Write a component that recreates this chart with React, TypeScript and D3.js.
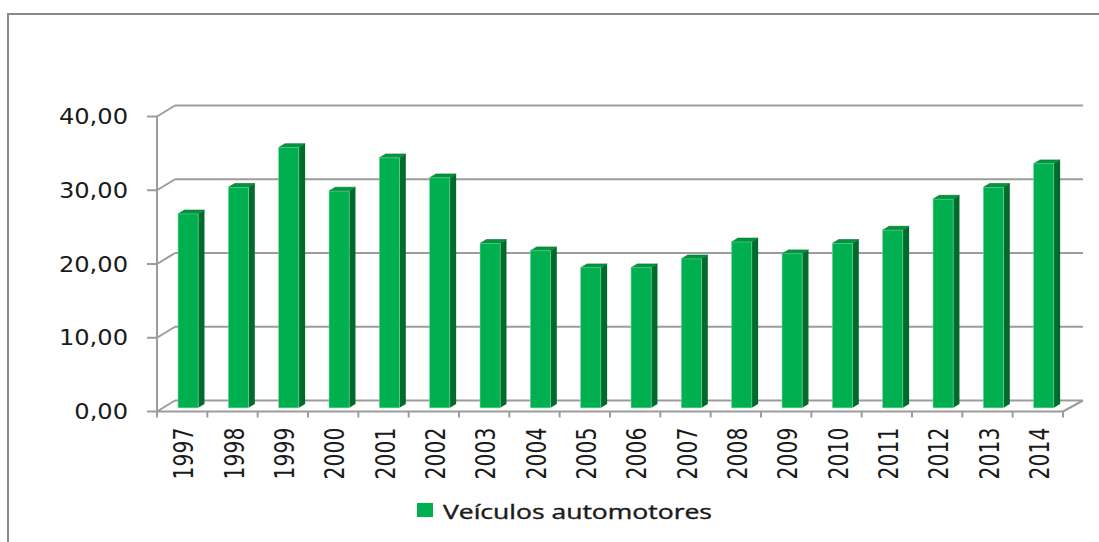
import React, { useEffect, useRef } from 'react';
import * as d3 from 'd3';

const years = ['1997', '1998', '1999', '2000', '2001', '2002', '2003', '2004', '2005', '2006', '2007', '2008', '2009', '2010', '2011', '2012', '2013', '2014'];
const values = [26.3, 29.9, 35.3, 29.4, 33.9, 31.2, 22.3, 21.3, 19.0, 19.0, 20.2, 22.5, 20.9, 22.3, 24.1, 28.3, 29.9, 33.1];
const yTicks = [0, 10, 20, 30, 40];
const yTickLabels = ['0,00', '10,00', '20,00', '30,00', '40,00'];
const seriesName = 'Veículos automotores';

export default function App() {
  const svgRef = useRef<SVGSVGElement>(null);

  useEffect(() => {
    if (!svgRef.current) return;
    const svg = d3.select(svgRef.current);
    svg.selectAll('*').remove();

    const W = 1099;
    const H = 542;
    svg.attr('width', W).attr('height', H);

    // 3d depth offset of the back wall
    const dx = 18;
    const dy = -11;
    const left = 157;
    const right = 1063;
    const gridColor = '#9c9c9c';

    const x = d3.scaleBand<string>().domain(years).range([left, right]).paddingInner(0.6).paddingOuter(0.3);
    const y = d3.scaleLinear().domain([0, 40]).range([411.5, 116.5]);
    const p = (px: number, v: number, z: number) => [px + z * dx, y(v) + z * dy];

    // outer frame
    svg
      .append('rect')
      .attr('x', 8)
      .attr('y', 14)
      .attr('width', 1200)
      .attr('height', 700)
      .attr('fill', 'white')
      .attr('stroke', '#8a8a8a')
      .attr('stroke-width', 2);

    const g = svg.append('g');

    // back wall gridlines + side wall diagonals + y ticks
    yTicks.forEach((t) => {
      const a = p(left, t, 0);
      const b = p(left, t, 1);
      const c = p(right, t, 1);
      g.append('line').attr('x1', b[0]).attr('y1', b[1]).attr('x2', c[0] + 2).attr('y2', c[1])
        .attr('stroke', gridColor).attr('stroke-width', 2);
      g.append('line').attr('x1', a[0]).attr('y1', a[1]).attr('x2', b[0]).attr('y2', b[1])
        .attr('stroke', gridColor).attr('stroke-width', 2);
      g.append('line').attr('x1', left - 10).attr('y1', a[1]).attr('x2', left).attr('y2', a[1])
        .attr('stroke', gridColor).attr('stroke-width', 2);
    });

    // front y axis
    g.append('line').attr('x1', left).attr('x2', left).attr('y1', y(0)).attr('y2', y(40))
      .attr('stroke', gridColor).attr('stroke-width', 2);

    // floor front edge and right diagonal
    const fr = p(right, 0, 1);
    g.append('line').attr('x1', left).attr('x2', right).attr('y1', y(0)).attr('y2', y(0))
      .attr('stroke', gridColor).attr('stroke-width', 2);
    g.append('line').attr('x1', right).attr('y1', y(0)).attr('x2', fr[0] + 2).attr('y2', fr[1])
      .attr('stroke', gridColor).attr('stroke-width', 2);

    // category ticks
    d3.range(years.length + 1).forEach((i) => {
      const tx = left + i * x.step();
      g.append('line').attr('x1', tx).attr('x2', tx).attr('y1', y(0)).attr('y2', y(0) + 6)
        .attr('stroke', gridColor).attr('stroke-width', 2);
    });

    // bars
    const z1 = 0.33;
    const z2 = 0.68;
    const bw = x.bandwidth();
    const poly = (pts: number[][]) => pts.map((q) => q.join(',')).join(' ');

    years.forEach((yr, i) => {
      const v = values[i];
      const bx = x(yr) as number;
      const bar = g.append('g');
      // right side
      bar.append('polygon')
        .attr('points', poly([p(bx + bw, v, z1), p(bx + bw, v, z2), p(bx + bw, 0, z2), p(bx + bw, 0, z1)]))
        .attr('fill', '#006b2c');
      // top
      bar.append('polygon')
        .attr('points', poly([p(bx, v, z1), p(bx + bw, v, z1), p(bx + bw, v, z2), p(bx, v, z2)]))
        .attr('fill', '#00973f')
        .attr('stroke', '#00702f')
        .attr('stroke-width', 0.6);
      // front
      const f0 = p(bx, v, z1);
      const f1 = p(bx + bw, 0, z1);
      bar.append('rect')
        .attr('x', f0[0])
        .attr('y', f0[1])
        .attr('width', f1[0] - f0[0])
        .attr('height', f1[1] - f0[1])
        .attr('fill', '#00b050')
        .attr('stroke', '#6fd497')
        .attr('stroke-width', 0.6);
    });

    // y labels
    yTicks.forEach((t, i) => {
      svg.append('text')
        .attr('transform', `translate(128,${y(t)}) scale(1.15,1)`)
        .attr('dy', '0.36em')
        .attr('text-anchor', 'end')
        .style('font-family', '"DejaVu Sans", Verdana, sans-serif')
        .style('font-size', '21px')
        .style('fill', '#1a1a1a')
        .text(yTickLabels[i]);
    });

    // x labels (rotated)
    years.forEach((yr) => {
      const cx = (x(yr) as number) + bw / 2 + 1.5;
      svg.append('text')
        .attr('transform', `translate(${cx + 9.5},427.5) rotate(-90) scale(1,1.3)`)
        .attr('text-anchor', 'end')
        .style('font-family', '"DejaVu Sans", Verdana, sans-serif')
        .style('font-size', '20.4px')
        .style('fill', '#1a1a1a')
        .text(yr);
    });

    // legend
    svg.append('rect').attr('x', 417).attr('y', 503).attr('width', 16).attr('height', 14).attr('fill', '#00b050');
    svg.append('text')
      .attr('x', 443)
      .attr('y', 519)
      .attr('textLength', 269)
      .attr('lengthAdjust', 'spacingAndGlyphs')
      .style('font-family', '"Open Sans", "Noto Sans", sans-serif')
      .style('font-size', '20px')
      .style('fill', '#1a1a1a')
      .style('stroke', '#1a1a1a')
      .style('stroke-width', 0.4)
      .text(seriesName);
  }, []);

  return (
    <div style={{ position: 'absolute', left: 0, top: 0, width: 1099, height: 542, overflow: 'hidden', background: 'white' }}>
      <svg ref={svgRef} style={{ display: 'block' }}></svg>
    </div>
  );
}
